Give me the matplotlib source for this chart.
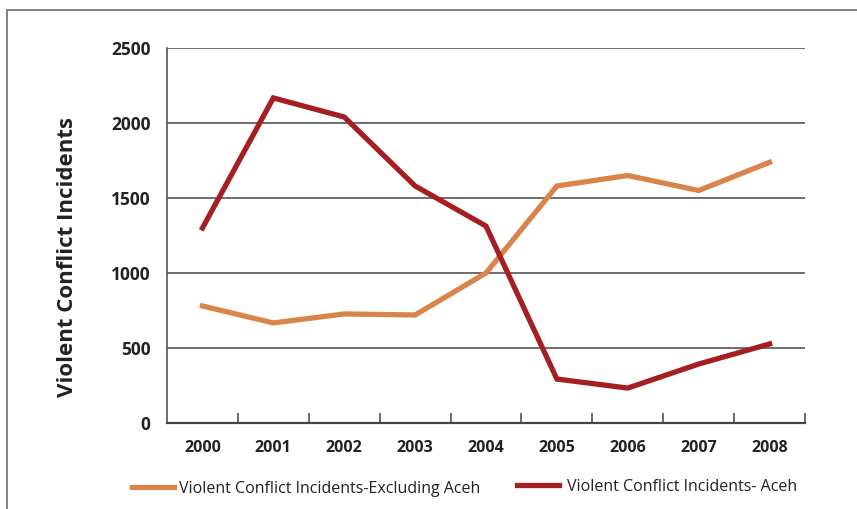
import matplotlib
matplotlib.use("Agg")
import matplotlib.pyplot as plt
from matplotlib.patches import Rectangle

years = ["2000", "2001", "2002", "2003", "2004", "2005", "2006", "2007", "2008"]
excl_aceh = [780, 667, 727, 720, 1000, 1580, 1650, 1550, 1738]
aceh = [1300, 2167, 2040, 1580, 1313, 293, 233, 393, 527]
yticks = [0, 500, 1000, 1500, 2000, 2500]

plt.rcParams['font.family'] = ['Open Sans', 'DejaVu Sans']

fig = plt.figure(figsize=(8.57, 5.09), dpi=100)
ax = fig.add_axes([167/857, 1-423/509, (805-167)/857, (423-48)/509])

x = list(range(len(years)))
l1, = ax.plot(x, excl_aceh, color='#D9844A', lw=3.8, solid_joinstyle='miter',
              label='Violent Conflict Incidents-Excluding Aceh', zorder=3)
l2, = ax.plot(x, aceh, color='#A51E22', lw=3.8, solid_joinstyle='miter',
              label='Violent Conflict Incidents- Aceh', zorder=3)

ax.set_xlim(-0.5, 8.5)
ax.set_ylim(0, 2500)
ax.set_yticks(yticks)
ax.set_yticklabels([str(v) for v in yticks], fontsize=12.5, fontweight='bold', color='#222222')
ax.tick_params(axis='y', length=0, pad=12)
ax.set_xticks(x)
ax.set_xticklabels(years, fontsize=11.5, fontweight='bold', color='#222222')
ax.tick_params(axis='x', which='major', length=0, pad=12)
ax.set_xticks([i + 0.5 for i in range(len(years))], minor=True)
ax.tick_params(axis='x', which='minor', direction='in', length=7, width=1.1, color='#444444')

for v in yticks[1:]:
    ax.axhline(v, color='#555555', lw=1.2, zorder=1)
for s in ['top', 'right']:
    ax.spines[s].set_visible(False)
ax.spines['left'].set_color('#555555')
ax.spines['left'].set_linewidth(1.2)
ax.spines['bottom'].set_color('#444444')
ax.spines['bottom'].set_linewidth(1.6)

fig.text(68/857, 1-257/509, 'Violent Conflict Incidents', rotation=90, ha='center', va='center',
         fontsize=16, fontweight='bold', color='#222222')

leg1 = fig.legend(handles=[l1], loc='center left', bbox_to_anchor=(118/857, 1-489/509),
                  frameon=False, fontsize=11.5, handlelength=2.6, handletextpad=0.35)
leg2 = fig.legend(handles=[l2], loc='center left', bbox_to_anchor=(503/857, 1-487/509),
                  frameon=False, fontsize=11.5, handlelength=2.6, handletextpad=0.5)
for leg in (leg1, leg2):
    for t in leg.get_texts():
        t.set_color('#222222')

fig.patches.append(Rectangle((7/857, -0.1), 1.0, 1 - 10/509 + 0.1, transform=fig.transFigure,
                             fill=False, edgecolor='#777777', lw=1.3))

fig.savefig('out.png', dpi=100)
